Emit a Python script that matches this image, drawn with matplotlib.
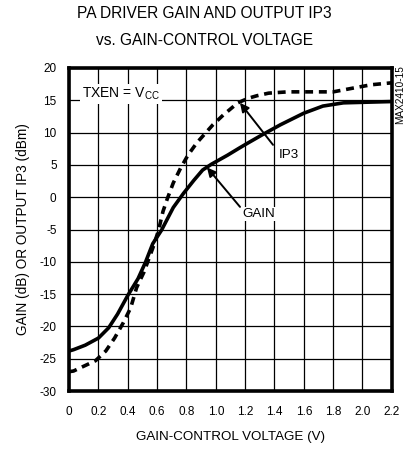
import matplotlib
matplotlib.use('Agg')
import matplotlib.pyplot as plt

plt.rcParams['font.family'] = ['Liberation Sans', 'DejaVu Sans']
plt.rcParams['axes.unicode_minus'] = False

# Gain curve (V, dB)
gain_v = [0.0, 0.03, 0.11, 0.2, 0.27, 0.33, 0.4, 0.47, 0.52, 0.57, 0.63, 0.71,
          0.78, 0.85, 0.91, 0.97, 1.08, 1.16, 1.22, 1.32, 1.44, 1.6, 1.73, 1.87,
          2.03, 2.2]
gain_db = [-23.8, -23.6, -22.9, -21.8, -20.2, -18.1, -15.2, -12.6, -10.1, -7.2,
           -5.1, -1.6, 0.6, 2.6, 4.2, 5.1, 6.5, 7.6, 8.4, 9.7, 11.2, 13.0, 14.1,
           14.6, 14.7, 14.8]

# Output IP3 curve (V, dBm)
ip3_v = [0.0, 0.03, 0.18, 0.25, 0.31, 0.37, 0.42, 0.46, 0.51, 0.57, 0.61, 0.64,
         0.67, 0.71, 0.76, 0.81, 0.87, 0.98, 1.05, 1.15, 1.22, 1.28, 1.36, 1.49,
         1.72, 1.8, 1.94, 2.06, 2.2]
ip3_dbm = [-27.0, -26.9, -25.3, -23.8, -21.8, -19.4, -17.1, -14.0, -11.6, -7.9,
           -5.1, -2.2, -0.2, 2.2, 4.5, 6.5, 8.4, 11.2, 12.7, 14.6, 15.3, 15.7,
           16.1, 16.3, 16.3, 16.3, 16.9, 17.4, 17.7]

x_ticks = [0, 0.2, 0.4, 0.6, 0.8, 1.0, 1.2, 1.4, 1.6, 1.8, 2.0, 2.2]
x_labels = ['0', '0.2', '0.4', '0.6', '0.8', '1.0', '1.2', '1.4', '1.6', '1.8', '2.0', '2.2']
y_ticks = list(range(-30, 25, 5))

fig = plt.figure(figsize=(4.09, 4.5), dpi=100)
ax = fig.add_axes([0.169, 0.131, 0.789, 0.718])

ax.plot(gain_v, gain_db, color='black', lw=2.6, solid_joinstyle='round')
ax.plot(ip3_v, ip3_dbm, color='black', lw=2.6, ls=(0, (2.2, 1.6)),
        dash_joinstyle='round')

ax.set_xlim(0, 2.2)
ax.set_ylim(-30, 20)
ax.set_xticks(x_ticks)
ax.set_xticklabels(x_labels)
ax.set_yticks(y_ticks)
ax.tick_params(length=0, labelsize=8.5)
ax.tick_params(axis='x', pad=11)
ax.tick_params(axis='y', pad=9)
ax.grid(True, color='black', lw=0.9)
for s in ax.spines.values():
    s.set_linewidth(2.6)

ax.set_xlabel('GAIN-CONTROL VOLTAGE (V)', fontsize=9.6, labelpad=9)
ax.set_ylabel('GAIN (dB) OR OUTPUT IP3 (dBm)', fontsize=9.8, labelpad=7)
fig.text(0.5, 0.969, 'PA DRIVER GAIN AND OUTPUT IP3', fontsize=11.2,
         ha='center', va='center')
fig.text(0.5, 0.909, 'vs. GAIN-CONTROL VOLTAGE', fontsize=11.2,
         ha='center', va='center')

ax.text(0.09, 16.0, 'TXEN = V$_{\\mathregular{CC}}$', fontsize=10, va='center',
        bbox=dict(facecolor='white', edgecolor='none', pad=1.5))

ax.annotate('', xy=(1.165, 14.6), xytext=(1.39, 8.1),
            arrowprops=dict(arrowstyle='-|>', color='black', lw=1.4,
                            mutation_scale=13, shrinkA=0, shrinkB=0))
ax.text(1.5, 6.6, 'IP3', fontsize=9.6, ha='center', va='center',
        bbox=dict(facecolor='white', edgecolor='none', pad=1))
ax.annotate('', xy=(0.94, 4.6), xytext=(1.165, -1.5),
            arrowprops=dict(arrowstyle='-|>', color='black', lw=1.4,
                            mutation_scale=13, shrinkA=0, shrinkB=0))
ax.text(1.29, -2.6, 'GAIN', fontsize=9.6, ha='center', va='center',
        bbox=dict(facecolor='white', edgecolor='none', pad=1))

fig.text(0.978, 0.789, 'MAX2410-15', rotation=90, fontsize=7.2,
         ha='center', va='center')

fig.savefig('out.png', dpi=100)
